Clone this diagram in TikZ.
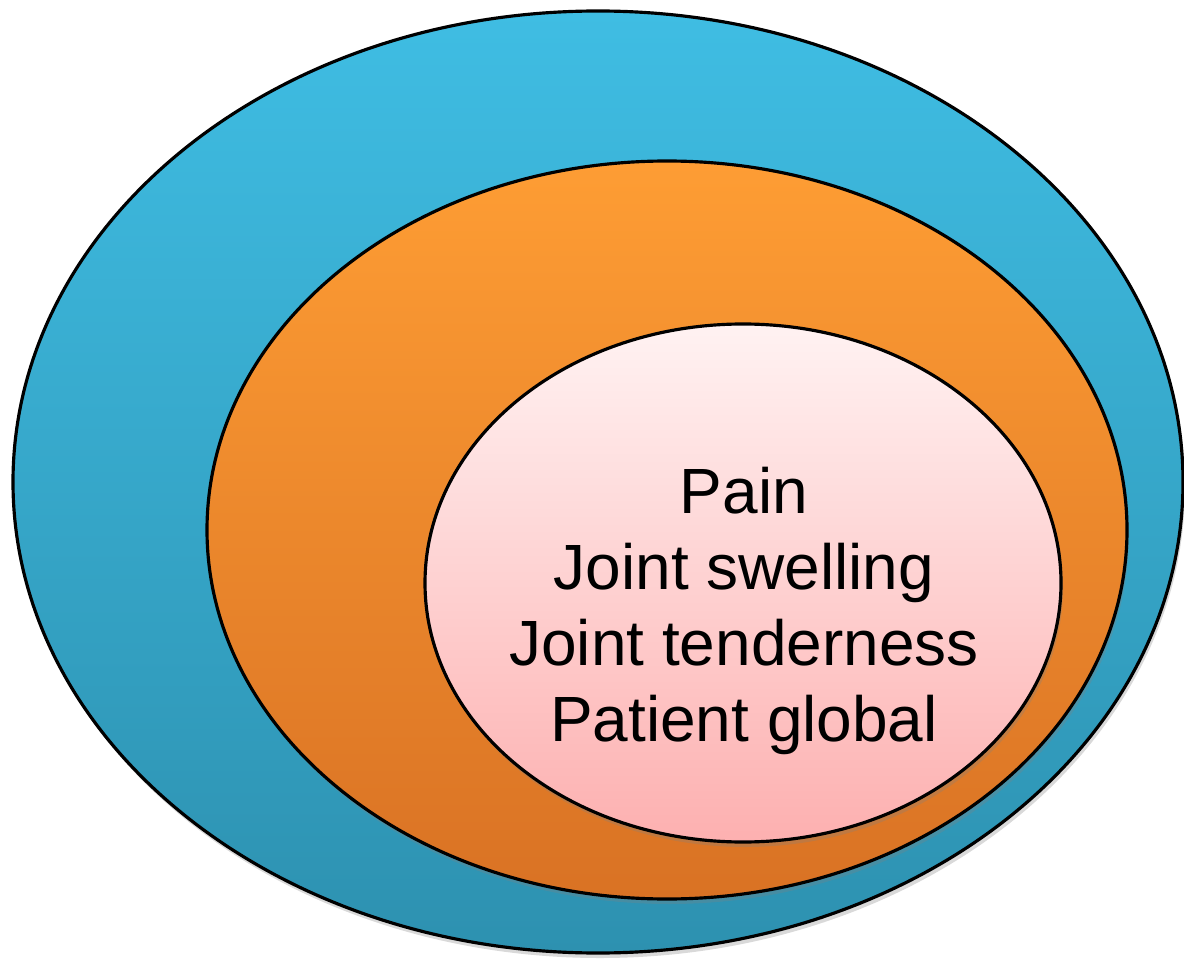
\documentclass[tikz,border=0pt]{standalone}
\usepackage{fontspec}
\setmainfont{Liberation Sans}
\usetikzlibrary{shadows}

\definecolor{outerTop}{RGB}{63,189,227}
\definecolor{outerBot}{RGB}{45,145,176}
\definecolor{midTop}{RGB}{254,157,52}
\definecolor{midBot}{RGB}{217,114,36}
\definecolor{innerTop}{RGB}{255,242,242}
\definecolor{innerBot}{RGB}{253,176,176}

\tikzset{
  ring/.style={line width=0.9pt,draw=black,
    drop shadow={shadow xshift=0.02,shadow yshift=-0.05,opacity=0.3}},
}

\begin{document}
\begin{tikzpicture}[line cap=round,line join=round]
  \useasboundingbox (0,0) rectangle (11.84,9.58);
  % three nested rings
  \path[ring,top color=outerTop,bottom color=outerBot] (5.98,4.76) ellipse (5.85 and 4.71);
  \path[ring,top color=midTop,bottom color=midBot] (6.67,4.28) ellipse (4.60 and 3.69);
  \path[ring,top color=innerTop,bottom color=innerBot] (7.43,3.75) ellipse (3.18 and 2.59);
  \node[align=center,font=\fontsize{18.2}{21.6}\selectfont] (core) at (7.44,3.47)
    {Pain\\Joint swelling\\Joint tenderness\\Patient global};
\end{tikzpicture}
\end{document}
